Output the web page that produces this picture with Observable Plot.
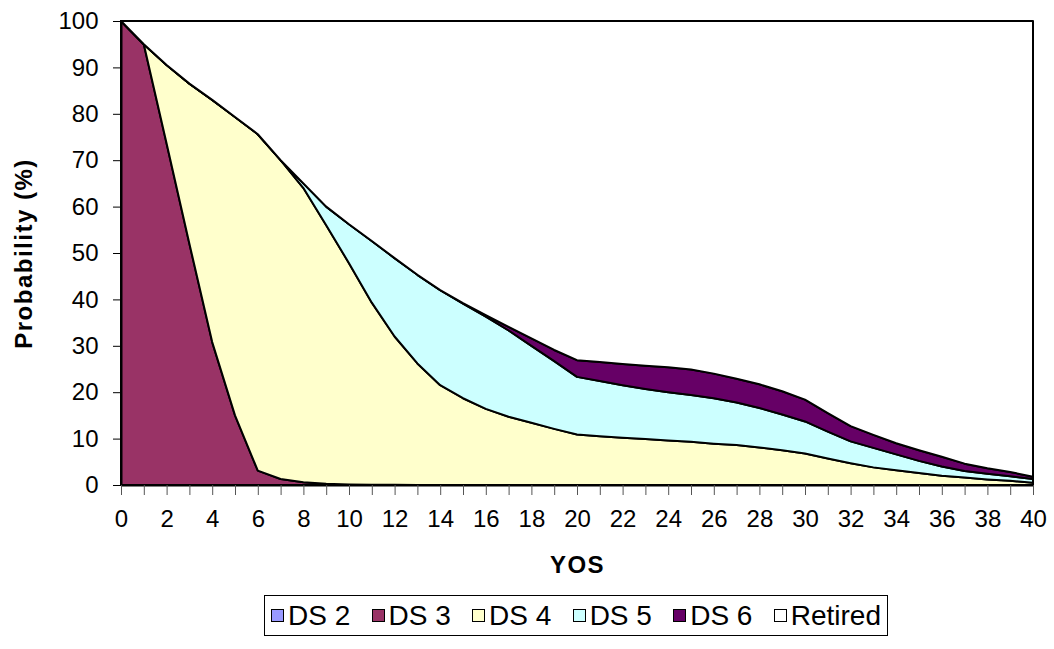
<!DOCTYPE html>
<html>
<head>
<meta charset="utf-8">
<script src="https://cdn.jsdelivr.net/npm/d3@7"></script>
<script src="https://cdn.jsdelivr.net/npm/@observablehq/plot@0.6"></script>
<style>
  body { margin: 0; background: #fff; font-family: "Liberation Sans", Arial, sans-serif; }
  #chart { position: relative; width: 1054px; height: 649px; }
  #chart svg { display: block; }
  g[font-weight="bold"] text { letter-spacing: 1.5px; }
  #legend {
    position: absolute; left: 264px; top: 595px; width: 624px; height: 41px;
    box-sizing: border-box; border: 1px solid #000; background: #fff;
    display: flex; align-items: center; justify-content: space-between;
    padding: 0 6px; font-size: 28px; color: #000;
  }
  #legend .item { display: flex; align-items: center; white-space: nowrap; }
  #legend .swatch { width: 11px; height: 11px; border: 1px solid #000; margin-right: 4px; }
</style>
</head>
<body>
<div id="chart"></div>
<script>
// Years of service (category axis)
const yos = [0, 1, 2, 3, 4, 5, 6, 7, 8, 9, 10, 11, 12, 13, 14, 15, 16, 17, 18, 19, 20,
             21, 22, 23, 24, 25, 26, 27, 28, 29, 30, 31, 32, 33, 34, 35, 36, 37, 38, 39, 40];

// Probability (%) of each state by YOS
const ds2 = [0, 0, 0, 0, 0, 0, 0, 0, 0, 0, 0, 0, 0, 0, 0, 0, 0, 0, 0, 0, 0,
             0, 0, 0, 0, 0, 0, 0, 0, 0, 0, 0, 0, 0, 0, 0, 0, 0, 0, 0, 0];
const ds3 = [100, 95, 73.6, 52, 30.8, 15, 3.1, 1.3, 0.6, 0.25, 0.12, 0.07, 0.04, 0.02, 0, 0, 0, 0, 0, 0, 0,
             0, 0, 0, 0, 0, 0, 0, 0, 0, 0, 0, 0, 0, 0, 0, 0, 0, 0, 0, 0];
const ds4 = [0, 0, 16.9, 34.5, 52.2, 64.3, 72.5, 68.7, 63.4, 55.75, 47.68, 39.23, 31.96, 26.18, 21.5, 18.7, 16.4, 14.7, 13.4, 12.1, 10.9,
             10.5, 10.2, 9.9, 9.6, 9.3, 8.9, 8.6, 8.1, 7.5, 6.8, 5.7, 4.7, 3.8, 3.2, 2.6, 2.0, 1.6, 1.2, 0.9, 0.5];
const ds5 = [0, 0, 0, 0, 0, 0, 0, 0, 1.0, 4.0, 8.4, 13.3, 16.9, 19.1, 20.5, 20.4, 19.9, 18.6, 16.6, 14.6, 12.4,
             11.9, 11.3, 10.8, 10.4, 10.1, 9.8, 9.2, 8.5, 7.7, 6.9, 5.8, 4.7, 4.2, 3.4, 2.6, 2.0, 1.4, 1.2, 1.0, 0.8];
const ds6 = [0, 0, 0, 0, 0, 0, 0, 0, 0, 0, 0, 0, 0, 0, 0, 0.1, 0.3, 0.8, 1.6, 2.4, 3.6,
             4.1, 4.6, 5.0, 5.4, 5.5, 5.3, 5.1, 5.1, 5.0, 4.7, 4.0, 3.3, 2.8, 2.4, 2.3, 2.1, 1.6, 1.2, 0.9, 0.5];
const retired = [0, 5, 9.5, 13.5, 17, 20.7, 24.4, 30, 35, 40, 43.8, 47.4, 51.1, 54.7, 58, 60.8, 63.4, 65.9, 68.4, 70.9, 73.1,
                 73.5, 73.9, 74.3, 74.6, 75.1, 76.0, 77.1, 78.3, 79.8, 81.6, 84.5, 87.3, 89.2, 91.0, 92.5, 93.9, 95.4, 96.4, 97.2, 98.2];

const seriesNames = ["DS 2", "DS 3", "DS 4", "DS 5", "DS 6", "Retired"];
const seriesValues = [ds2, ds3, ds4, ds5, ds6, retired];
const seriesColors = ["#9999FF", "#993366", "#FFFFCC", "#CCFFFF", "#660066", "#FFFFFF"];

const yTicks = [0, 10, 20, 30, 40, 50, 60, 70, 80, 90, 100];
const xTickLabels = [0, 2, 4, 6, 8, 10, 12, 14, 16, 18, 20, 22, 24, 26, 28, 30, 32, 34, 36, 38, 40];

// Long-format table, one row per (state, YOS); stacked in series order
const rows = seriesNames.flatMap((name, i) =>
  yos.map((x, j) => ({yos: x, series: name, value: seriesValues[i][j]}))
);

const chart = Plot.plot({
  width: 1054,
  height: 592,
  marginLeft: 121,
  marginRight: 21,
  marginTop: 21,
  marginBottom: 107,
  style: {fontFamily: "'Liberation Sans', Arial, sans-serif", fontSize: "24px", background: "white", color: "black"},
  x: {domain: [0, 40]},
  y: {domain: [0, 100]},
  color: {domain: seriesNames, range: seriesColors},
  marks: [
    Plot.areaY(rows, {
      x: "yos", y: "value", z: "series", fill: "series",
      stroke: "black", strokeWidth: 2, strokeLinejoin: "round"
    }),
    Plot.ruleX([0], {stroke: "black", strokeWidth: 2}),
    Plot.ruleY([0], {stroke: "black", strokeWidth: 2}),
    Plot.axisY({ticks: yTicks, tickSize: 8, tickPadding: 15, label: null}),
    Plot.axisX({
      ticks: yos, tickSize: 10, tickPadding: 14, label: null, stroke: "#555",
      tickFormat: d => xTickLabels.includes(d) ? String(d) : ""
    }),
    Plot.text(["Probability (%)"], {
      text: d => d, frameAnchor: "left", dx: -97, rotate: -90,
      textAnchor: "middle", lineAnchor: "middle",
      fontWeight: "bold", fontSize: 24
    }),
    Plot.text(["YOS"], {
      text: d => d, frameAnchor: "bottom", dy: 80,
      textAnchor: "middle", lineAnchor: "middle",
      fontWeight: "bold", fontSize: 24
    })
  ]
});

const container = document.getElementById("chart");
container.appendChild(chart);

// Legend below the plot
const legend = document.createElement("div");
legend.id = "legend";
seriesNames.forEach((name, i) => {
  const item = document.createElement("div");
  item.className = "item";
  const sw = document.createElement("span");
  sw.className = "swatch";
  sw.style.background = seriesColors[i];
  const label = document.createElement("span");
  label.textContent = name;
  item.appendChild(sw);
  item.appendChild(label);
  legend.appendChild(item);
});
container.appendChild(legend);
</script>
</body>
</html>
